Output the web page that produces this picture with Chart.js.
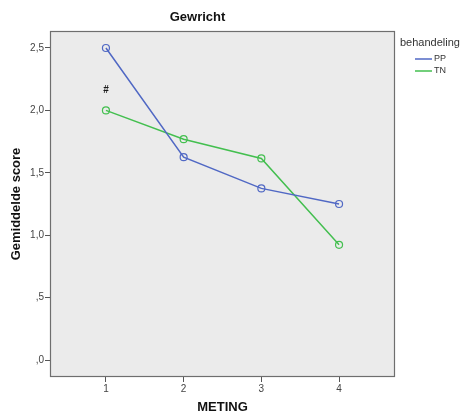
<!DOCTYPE html>
<html><head><meta charset="utf-8">
<script src="https://cdn.jsdelivr.net/npm/chart.js@4/dist/chart.umd.min.js"></script>
<style>html,body{margin:0;padding:0;background:#fff}#wrap{width:463px;height:419px}</style>
</head><body><div id="wrap"><canvas id="c"></canvas></div>
<script>
const categories = [1, 2, 3, 4];
const xTickLabels = ['1', '2', '3', '4'];
const yTickValues = [0, 0.5, 1.0, 1.5, 2.0, 2.5];
const yTickLabels = [',0', ',5', '1,0', '1,5', '2,0', '2,5'];
const seriesNames = ['PP', 'TN'];
const ppValues = [2.5, 1.625, 1.375, 1.25];
const tnValues = [2.0, 1.769, 1.615, 0.923];
const annotations = [{x: 1, y: 2.16, text: '#'}];

const colors = ['#5068c4', '#43bf4f'];
const F = 'Arial, "Liberation Sans", sans-serif';

const bgPlugin = {
  id: 'bg',
  beforeDraw(chart) {
    const {ctx, chartArea: a} = chart;
    ctx.save();
    ctx.fillStyle = '#ebebeb';
    ctx.fillRect(a.left, a.top, a.right - a.left, a.bottom - a.top);
    ctx.restore();
  },
  afterDatasetsDraw(chart) {
    const {ctx, chartArea: a, scales} = chart;
    ctx.save();
    ctx.strokeStyle = '#6e6e6e';
    ctx.lineWidth = 1.2;
    ctx.strokeRect(a.left + 0.5, a.top + 0.5, a.right - a.left - 1, a.bottom - a.top - 1);
    ctx.fillStyle = '#1a1a1a';
    ctx.font = 'bold 10px ' + F;
    ctx.textAlign = 'center';
    ctx.textBaseline = 'middle';
    annotations.forEach(an => {
      ctx.fillText(an.text, scales.x.getPixelForValue(an.x), scales.y.getPixelForValue(an.y));
    });
    // legend
    const lx = a.right + 5;
    ctx.textAlign = 'left';
    ctx.fillStyle = '#333';
    ctx.font = '11px ' + F;
    ctx.fillText('behandeling', lx, 43);
    chart.data.datasets.forEach((ds, i) => {
      const y = 59 + i * 12;
      ctx.strokeStyle = ds.borderColor;
      ctx.lineWidth = 1.5;
      ctx.beginPath();
      ctx.moveTo(lx + 15, y);
      ctx.lineTo(lx + 32, y);
      ctx.stroke();
      ctx.fillStyle = '#333';
      ctx.font = '9px ' + F;
      ctx.fillText(ds.label, lx + 34, y);
    });
    ctx.restore();
  }
};

new Chart(document.getElementById('c'), {
  type: 'line',
  data: {
    datasets: [
      {label: seriesNames[0], data: categories.map((c, i) => ({x: c, y: ppValues[i]})), borderColor: colors[0]},
      {label: seriesNames[1], data: categories.map((c, i) => ({x: c, y: tnValues[i]})), borderColor: colors[1]}
    ].map(d => Object.assign(d, {
      backgroundColor: 'rgba(0,0,0,0)', borderWidth: 1.5, pointRadius: 3.5,
      pointBorderWidth: 1.2, pointBackgroundColor: 'rgba(0,0,0,0)',
      pointBorderColor: d.borderColor, tension: 0
    }))
  },
  options: {
    responsive: true, maintainAspectRatio: false, animation: false,
    layout: {padding: {left: 0, right: 68, top: 0, bottom: 0}},
    plugins: {
      legend: {display: false}, tooltip: {enabled: false},
      title: {display: true, text: 'Gewricht', color: '#111',
        font: {family: F, size: 13, weight: 'bold', lineHeight: 1.2},
        padding: {top: 10, bottom: 5.4}}
    },
    scales: {
      x: {
        type: 'linear', min: 0.28, max: 4.72,
        afterBuildTicks: s => { s.ticks = categories.map(v => ({value: v})); },
        afterFit: s => { s.height = 42; },
        ticks: {callback: (v) => xTickLabels[categories.indexOf(v)], color: '#444',
          font: {family: F, size: 10}, padding: 1, maxRotation: 0},
        grid: {drawOnChartArea: false, tickLength: 5, color: '#555', tickWidth: 1},
        border: {display: false},
        title: {display: true, text: 'METING', color: '#111',
          font: {family: F, size: 13, weight: 'bold', lineHeight: 1.2}, padding: {top: 0, bottom: 4}}
      },
      y: {
        type: 'linear', min: -0.136, max: 2.636,
        afterBuildTicks: s => { s.ticks = yTickValues.map(v => ({value: v})); },
        afterFit: s => { s.width = 50; },
        ticks: {callback: (v) => yTickLabels[yTickValues.indexOf(v)], color: '#444',
          font: {family: F, size: 10}, padding: 1},
        grid: {drawOnChartArea: false, tickLength: 5, color: '#555', tickWidth: 1},
        border: {display: false},
        title: {display: true, text: 'Gemiddelde score', color: '#111',
          font: {family: F, size: 13, weight: 'bold', lineHeight: 1.2}, padding: {top: 9, bottom: 0}}
      }
    }
  },
  plugins: [bgPlugin]
});
</script></body></html>
